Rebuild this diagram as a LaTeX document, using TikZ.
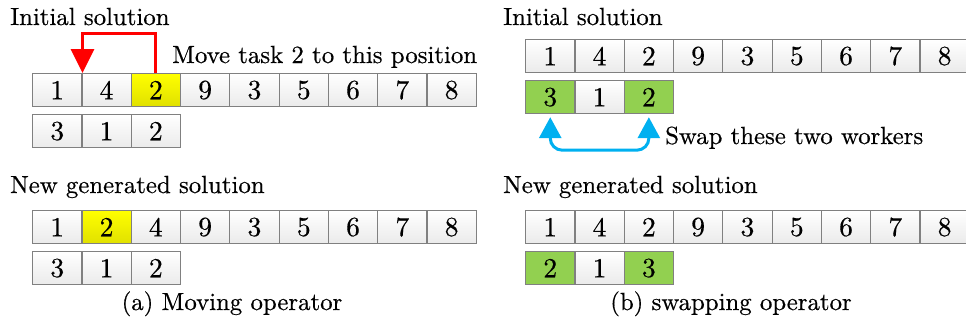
\documentclass[tikz,border=0pt]{standalone}
\usepackage{fontspec}
\setmainfont{lmroman10-regular.otf}[FakeBold=0.5]
\usetikzlibrary{arrows.meta}
\definecolor{cellgreen}{RGB}{146,208,80}
\definecolor{cellyellow}{RGB}{255,255,0}
\definecolor{swapblue}{RGB}{0,176,240}
\definecolor{cellborder}{RGB}{128,128,128}
\begin{document}
\begin{tikzpicture}[x=1pt,y=-1pt,
  txt/.style={inner sep=0pt, font=\fontsize{24.8}{30}\selectfont},
  cell/.style={draw=cellborder, line width=1.2pt, minimum width=49.3pt, minimum height=33pt,
    inner sep=0pt, anchor=north west, font=\fontsize{27.5}{30}\selectfont},
  cw/.style={top color=white, bottom color=gray!16},
  cy/.style={top color=cellyellow, bottom color=cellyellow!88!black},
  cg/.style={fill=cellgreen},
  redarrow/.style={draw=red, line width=3pt, -{Triangle[width=23pt,length=24pt]}},
  bluearrow/.style={draw=swapblue, line width=3pt, rounded corners=12pt,
    {Triangle[width=22pt,length=21pt]}-{Triangle[width=22pt,length=21pt]}}
]
\useasboundingbox (0,0) rectangle (966,327);

% ---------- (a) moving operator ----------
\node[txt, anchor=base west] (ta1) at (10,25) {Initial solution};
\foreach \v/\s [count=\i from 0] in {1/cw,4/cw,2/cy,9/cw,3/cw,5/cw,6/cw,7/cw,8/cw}
  \node[cell,\s] (a1-\i) at (32+\i*49.3,73) {\v};
\foreach \v/\s [count=\i from 0] in {3/cw,1/cw,2/cw}
  \node[cell,\s] (a2-\i) at (32+\i*49.3,114) {\v};
\node[txt, anchor=base west] (tmove) at (172,63) {Move task 2 to this position};
\draw[redarrow] (a1-2.north) -- ++(0,-40) -| (a1-0.north east);

\node[txt, anchor=base west] (ta2) at (10,193) {New generated solution};
\foreach \v/\s [count=\i from 0] in {1/cw,2/cy,4/cw,9/cw,3/cw,5/cw,6/cw,7/cw,8/cw}
  \node[cell,\s] (a3-\i) at (32+\i*49.3,210) {\v};
\foreach \v/\s [count=\i from 0] in {3/cw,1/cw,2/cw}
  \node[cell,\s] (a4-\i) at (32+\i*49.3,251) {\v};
\node[txt, anchor=base] (capa) at (232,310) {(a) Moving operator};

% ---------- (b) swapping operator ----------
\node[txt, anchor=base west] (tb1) at (503,25) {Initial solution};
\foreach \v/\s [count=\i from 0] in {1/cw,4/cw,2/cw,9/cw,3/cw,5/cw,6/cw,7/cw,8/cw}
  \node[cell,\s] (b1-\i) at (525+\i*49.3,39) {\v};
\foreach \v/\s [count=\i from 0] in {3/cg,1/cw,2/cg}
  \node[cell,\s] (b2-\i) at (525+\i*49.3,80) {\v};
\coordinate (sl) at ([yshift=-3pt]b2-0.south);
\coordinate (sr) at ([yshift=-3pt]b2-2.south);
\draw[bluearrow] (sl) -- ++(0,33) -| (sr);
\node[txt, anchor=base west] (tswap) at (665,144) {Swap these two workers};

\node[txt, anchor=base west] (tb2) at (503,193) {New generated solution};
\foreach \v/\s [count=\i from 0] in {1/cw,4/cw,2/cw,9/cw,3/cw,5/cw,6/cw,7/cw,8/cw}
  \node[cell,\s] (b3-\i) at (525+\i*49.3,210) {\v};
\foreach \v/\s [count=\i from 0] in {2/cg,1/cw,3/cg}
  \node[cell,\s] (b4-\i) at (525+\i*49.3,251) {\v};
\node[txt, anchor=base] (capb) at (731,310) {(b) swapping operator};
\end{tikzpicture}
\end{document}
